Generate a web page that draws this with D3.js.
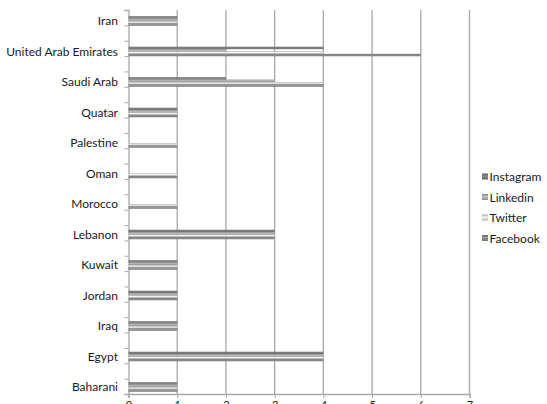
<!DOCTYPE html>
<html><head><meta charset="utf-8">
<script src="https://cdn.jsdelivr.net/npm/d3@7"></script>
<style>
html,body{margin:0;padding:0;background:#fff;overflow:hidden;}
text{font-family:Lato,"Open Sans",sans-serif;}
</style></head>
<body>
<svg id="chart" width="547" height="404"></svg>
<script>
// ---- data ----
const categories = ["Iran","United Arab Emirates","Saudi Arab","Quatar","Palestine","Oman","Morocco","Lebanon","Kuwait","Jordan","Iraq","Egypt","Baharani"];
const seriesNames = ["Instagram","Linkedin","Twitter","Facebook"];
const instagram = [1,4,2,1,0,0,0,3,1,1,1,4,1];
const linkedin  = [1,2,3,1,0,0,0,3,1,1,1,4,1];
const twitter   = [1,4,4,1,1,1,1,3,1,1,1,4,1];
const facebook  = [1,6,4,1,1,1,1,3,1,1,1,4,1];
const xTickLabels = [0,1,2,3,4,5,6,7];
const seriesValues = [instagram, linkedin, twitter, facebook];
const seriesColors = ["#6f6f6f","#9b9b9b","#c6c6c6","#7b7b7b"];

const svg = d3.select("#chart");
const x = d3.scaleLinear().domain([0,7]).range([128.5,469.5]);
const y = d3.scaleBand().domain(categories).range([5.75,402.25]).paddingInner(0.69).paddingOuter(0.345);
const ys = d3.scaleBand().domain(seriesNames).range([0,y.bandwidth()]);
const axisTop = 10, axisBottom = 394;

// gradients
const defs = svg.append("defs");
seriesNames.forEach((s,i)=>{
  const c = d3.color(seriesColors[i]);
  const g = defs.append("linearGradient").attr("id","g"+i).attr("x1",0).attr("x2",0).attr("y1",0).attr("y2",1);
  g.append("stop").attr("offset","0%").attr("stop-color",c.darker(0.5));
  g.append("stop").attr("offset","45%").attr("stop-color",c.brighter(0.6));
  g.append("stop").attr("offset","100%").attr("stop-color",c.darker(0.3));
});

// gridlines
svg.append("g").selectAll("line").data(xTickLabels.slice(1)).join("line")
  .attr("x1",d=>x(d)).attr("x2",d=>x(d)).attr("y1",axisTop).attr("y2",axisBottom)
  .attr("stroke","#a8a8a8").attr("stroke-width",1.3);

// bottom axis
const xAxis = d3.axisBottom(x).tickValues(xTickLabels).tickSize(4).tickPadding(3).tickFormat(d3.format("d"));
const gx = svg.append("g").attr("transform",`translate(0,${axisBottom})`).call(xAxis);
gx.select(".domain").attr("stroke","#a8a8a8").attr("stroke-width",1.3);
gx.selectAll(".tick line").attr("stroke","#a8a8a8");
gx.selectAll("text").attr("font-size",11).attr("fill","#222").attr("font-family","Lato");

// left axis: line and tick marks
const tickScale = d3.scaleLinear().domain([0,25]).range([axisTop,axisBottom]);
const yAxis = d3.axisLeft(tickScale).tickValues(d3.range(26)).tickSize(4).tickFormat("");
const gy = svg.append("g").attr("transform",`translate(${x(0)},0)`).call(yAxis);
gy.select(".domain").attr("stroke","#a8a8a8").attr("stroke-width",1.3);
gy.selectAll(".tick line").attr("stroke","#a8a8a8");

// category labels
svg.append("g").selectAll("text").data(categories).join("text")
  .attr("x",118).attr("y",d=>y(d)+y.bandwidth()/2).attr("dy","0.35em")
  .attr("text-anchor","end").attr("font-size",12).attr("fill","#1a1a1a").text(d=>d);

// bars
seriesNames.forEach((s,i)=>{
  svg.append("g").selectAll("rect").data(categories.map((c,j)=>({c,v:seriesValues[i][j]})).filter(d=>d.v>0)).join("rect")
    .attr("x",x(0)).attr("y",d=>y(d.c)+ys(s)).attr("height",ys.bandwidth())
    .attr("width",d=>x(d.v)-x(0))
    .attr("fill",`url(#g${i})`);
});

// legend
const lg = svg.append("g");
seriesNames.forEach((s,i)=>{
  const yy = 177 + i*20.5;
  lg.append("rect").attr("x",482).attr("y",yy-3.5).attr("width",6).attr("height",6).attr("fill",`url(#g${i})`);
  lg.append("text").attr("x",489.5).attr("y",yy).attr("dy","0.35em").attr("font-size",12).attr("fill","#1a1a1a").text(s);
});
</script>
</body></html>
